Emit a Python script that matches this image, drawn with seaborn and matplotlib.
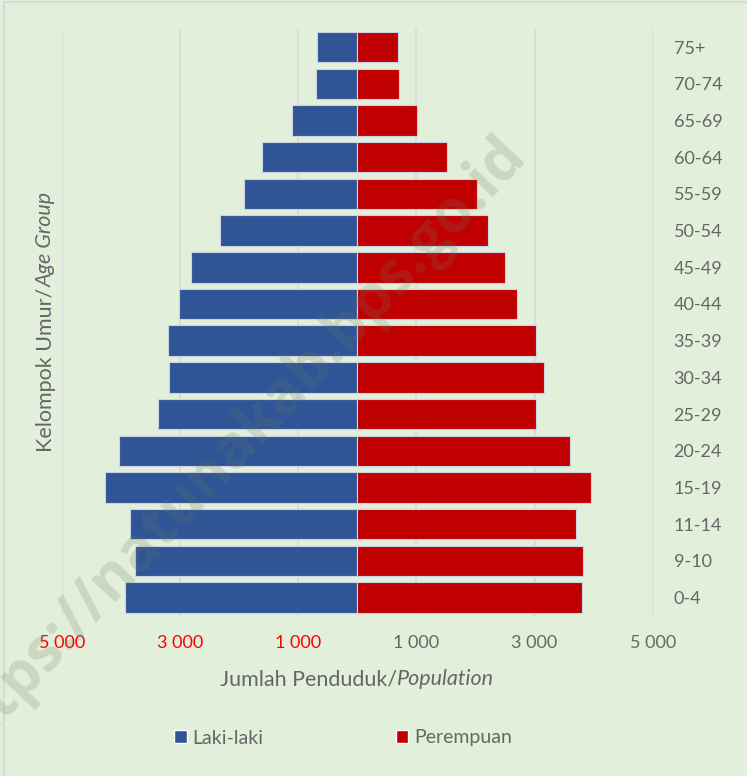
import matplotlib
matplotlib.use("Agg")
import matplotlib.pyplot as plt
from matplotlib.patches import Patch
from matplotlib.lines import Line2D
import seaborn as sns
import pandas as pd

ages = ["75+", "70-74", "65-69", "60-64", "55-59", "50-54", "45-49", "40-44",
        "35-39", "30-34", "25-29", "20-24", "15-19", "11-14", "9-10", "0-4"]
male = [678, 701, 1106, 1619, 1919, 2322, 2809, 3020,
        3207, 3184, 3371, 4039, 4261, 3840, 3767, 3936]
female = [690, 707, 1008, 1526, 2025, 2219, 2508, 2707,
          3025, 3152, 3025, 3604, 3959, 3695, 3815, 3796]
series = ["Laki-laki", "Perempuan"]
xticks = [-5000, -3000, -1000, 1000, 3000, 5000]
xticklabels = ["5 000", "3 000", "1 000", "1 000", "3 000", "5 000"]
xlabel_parts = ["Jumlah Penduduk/", "Population"]
ylabel_parts = ["Kelompok Umur/", "Age Group"]
watermark = "https://natunakab.bps.go.id"

BG = "#E2EFDA"
BLUE = "#2F5597"
RED = "#C00000"
GREY = "#666666"

sns.set_style("white")
plt.rcParams["font.family"] = ["Lato", "DejaVu Sans"]

df = pd.DataFrame({
    "age": ages * 2,
    "value": [-v for v in male] + list(female),
    "sex": [series[0]] * len(ages) + [series[1]] * len(ages),
})

W, H = 747, 776
fig = plt.figure(figsize=(W / 100, H / 100), dpi=100, facecolor=BG)
ax = fig.add_axes([61.8 / W, 1 - 616 / H, (652.7 - 61.8) / W, (616 - 28.7) / H])
ax.set_facecolor(BG)

ax.xaxis.grid(True, color="#D9D9D9", lw=1.2, zorder=0)
ax.set_axisbelow(True)

sns.barplot(data=df, x="value", y="age", hue="sex", order=ages,
            hue_order=series, palette=[BLUE, RED], saturation=1, dodge=False,
            width=0.83, orient="h", edgecolor="#c9d3e2", linewidth=0.8,
            legend=False, ax=ax, zorder=2)

ax.set_xlim(-5000, 5000)
ax.set_xticks(xticks)
ax.set_xticklabels(xticklabels)
for lab, t in zip(ax.get_xticklabels(), xticks):
    lab.set_color("#FF0000" if t < 0 else GREY)
ax.tick_params(axis="x", length=0, pad=14, labelsize=13)
ax.yaxis.tick_right()
ax.tick_params(axis="y", length=0, pad=15, labelsize=13, labelcolor=GREY)
ax.set_xlabel("")
ax.set_ylabel("")
for s in ax.spines.values():
    s.set_visible(False)

# axis titles (normal + italic parts)
fs_title = 15.5
tx1 = fig.text(0, 0, xlabel_parts[0], fontsize=fs_title, color=GREY, va="baseline", ha="left")
tx2 = fig.text(0, 0, xlabel_parts[1], fontsize=fs_title, color=GREY, va="baseline", ha="left", style="italic")
ty1 = fig.text(0, 0, ylabel_parts[0], fontsize=fs_title, color=GREY, va="baseline", ha="left",
               rotation=90, rotation_mode="anchor")
ty2 = fig.text(0, 0, ylabel_parts[1], fontsize=fs_title, color=GREY, va="baseline", ha="left",
               rotation=90, rotation_mode="anchor", style="italic")
fig.canvas.draw()
r = fig.canvas.get_renderer()
w1 = tx1.get_window_extent(r).width
w2 = tx2.get_window_extent(r).width
x0 = 357 - (w1 + w2) / 2
yb = H - 685
tx1.set_position((x0 / W, yb / H))
tx2.set_position(((x0 + w1) / W, yb / H))
h1 = ty1.get_window_extent(r).height
h2 = ty2.get_window_extent(r).height
y0 = (H - 322) - (h1 + h2) / 2
xb = 51.5
ty1.set_position((xb / W, y0 / H))
ty2.set_position((xb / W, (y0 + h1) / H))

# legend
handles = [Patch(facecolor=BLUE), Patch(facecolor=RED)]
fig.legend(handles=handles, labels=series, loc="center",
           bbox_to_anchor=(343 / W, 1 - 738 / H), ncol=2, frameon=False,
           handlelength=0.65, handleheight=0.65, handletextpad=0.3,
           columnspacing=6.8, fontsize=14, labelcolor=GREY)

# watermark
fig.text(231 / W, 1 - 450 / H, watermark, fontsize=43, fontweight="bold",
         family=["Open Sans", "DejaVu Sans"], color="#6A7C62", alpha=0.2,
         rotation=47, ha="center", va="center", zorder=10)

# outer border
fig.add_artist(Line2D([4 / W, 4 / W], [0, 1 - 1.5 / H], transform=fig.transFigure,
                      color="#D9D9D9", lw=1.5))
fig.add_artist(Line2D([4 / W, 1], [1 - 1.5 / H, 1 - 1.5 / H], transform=fig.transFigure,
                      color="#D9D9D9", lw=1.5))

fig.savefig("out.png", dpi=100, facecolor=BG)
